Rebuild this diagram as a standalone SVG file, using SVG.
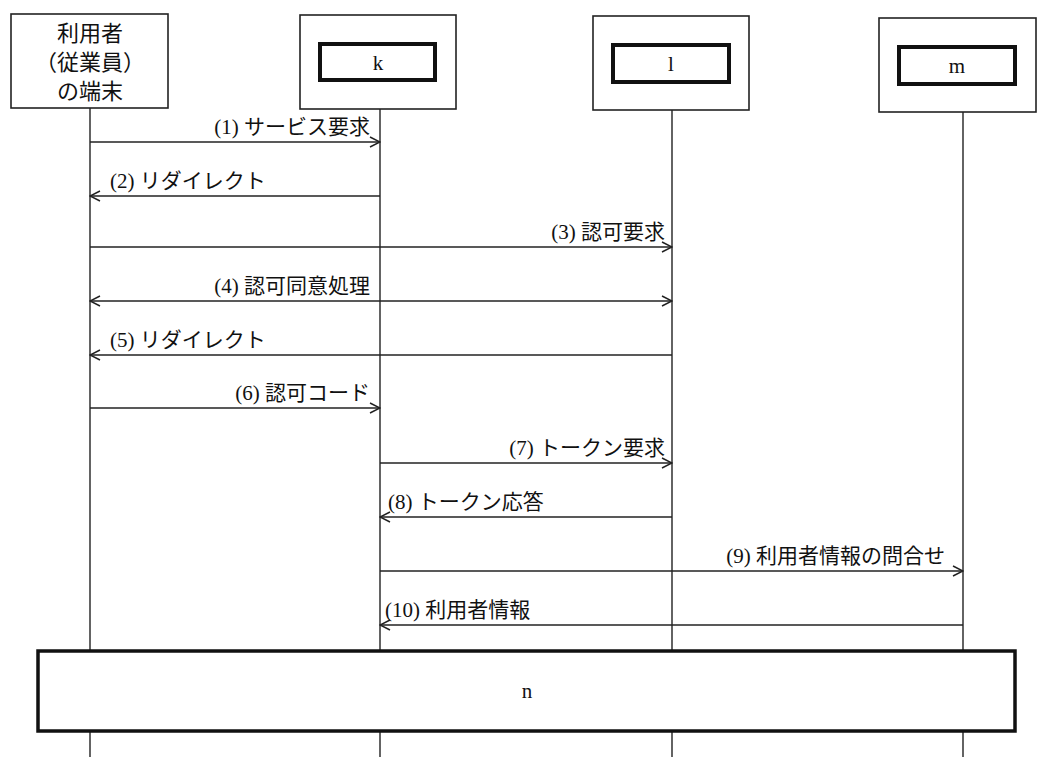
<svg xmlns="http://www.w3.org/2000/svg" width="1058" height="774" viewBox="0 0 1058 774">
<style>
.b{fill:#fff;stroke:#222;stroke-width:1.6}
.i{fill:#fff;stroke:#111;stroke-width:4}
.l{stroke:#222;stroke-width:1.4;fill:none}
text{font-family:"Liberation Serif","Noto Sans CJK JP",serif;font-size:21px;fill:#111}
.c{text-anchor:middle}
.r{text-anchor:end}
.t{font-size:22px}
</style>
<defs><marker id="a" viewBox="0 0 12 12" refX="11" refY="6" markerWidth="12" markerHeight="12" markerUnits="userSpaceOnUse" orient="auto-start-reverse"><path d="M1 1L11 6L1 11" fill="none" stroke="#222" stroke-width="1.5"/></marker></defs>
<g id="lifelines" class="l">
<line x1="90" y1="108" x2="90" y2="757"/><line x1="380" y1="109" x2="380" y2="757"/><line x1="672" y1="110" x2="672" y2="757"/><line x1="963" y1="112" x2="963" y2="757"/>
</g>
<g id="user"><rect class="b" x="11" y="14" width="157" height="94"/>
<text class="c t" x="90" y="41">利用者</text><text class="c t" x="90" y="70">（従業員）</text><text class="c t" x="90" y="99">の端末</text></g>
<g id="k"><rect class="b" x="300" y="15" width="156" height="94"/><rect class="i" x="320" y="44" width="115" height="36"/><text class="c" x="378" y="70">k</text></g>
<g id="l"><rect class="b" x="593" y="16" width="156" height="94"/><rect class="i" x="613" y="45" width="116" height="37"/><text class="c" x="671" y="71">l</text></g>
<g id="m"><rect class="b" x="879" y="18" width="157" height="94"/><rect class="i" x="899" y="47" width="116" height="37"/><text class="c" x="957" y="73">m</text></g>
<g id="connectors" class="l">
<line x1="90" y1="142" x2="380" y2="142" marker-end="url(#a)"/>
<line x1="380" y1="196" x2="90" y2="196" marker-end="url(#a)"/>
<line x1="90" y1="247" x2="672" y2="247" marker-end="url(#a)"/>
<line x1="90" y1="301" x2="672" y2="301" marker-start="url(#a)" marker-end="url(#a)"/>
<line x1="672" y1="355" x2="90" y2="355" marker-end="url(#a)"/>
<line x1="90" y1="408" x2="380" y2="408" marker-end="url(#a)"/>
<line x1="380" y1="463" x2="672" y2="463" marker-end="url(#a)"/>
<line x1="672" y1="517" x2="380" y2="517" marker-end="url(#a)"/>
<line x1="380" y1="571" x2="963" y2="571" marker-end="url(#a)"/>
<line x1="963" y1="625" x2="380" y2="625" marker-end="url(#a)"/>
</g>
<g id="labels">
<text class="r" x="370" y="134">(1) サービス要求</text>
<text x="110" y="188">(2) リダイレクト</text>
<text class="r" x="665" y="239">(3) 認可要求</text>
<text class="r" x="370" y="293">(4) 認可同意処理</text>
<text x="110" y="347">(5) リダイレクト</text>
<text class="r" x="370" y="400">(6) 認可コード</text>
<text class="r" x="665" y="455">(7) トークン要求</text>
<text x="388" y="509">(8) トークン応答</text>
<text class="r" x="945" y="563">(9) 利用者情報の問合せ</text>
<text x="385" y="617">(10) 利用者情報</text>
</g>
<g id="n"><rect x="38" y="651" width="977" height="80" fill="#fff" stroke="#111" stroke-width="3.5"/><text class="c" x="527" y="698">n</text></g>
</svg>
